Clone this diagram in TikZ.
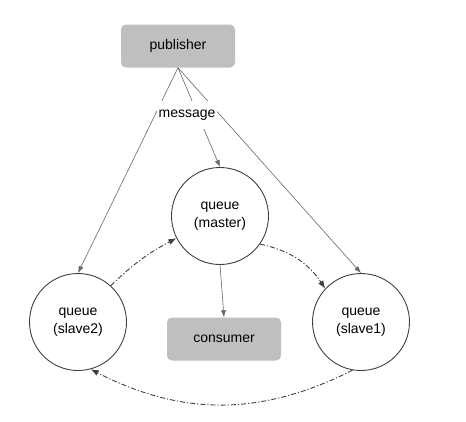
\documentclass[tikz,border=0pt]{standalone}
\usepackage{fontspec}
\setmainfont{Liberation Sans}
\usepackage{tikz}
\usetikzlibrary{arrows.meta,positioning,calc}
\tikzstyle{queue}=[draw=black!75,line width=0.9pt,circle,minimum size=97pt,inner sep=0pt,align=center,font=\fontsize{14}{18}\selectfont]
\tikzstyle{client}=[fill=black!25,rounded corners=5pt,minimum width=114pt,minimum height=43pt,inner sep=0pt,font=\fontsize{14}{17}\selectfont]
\tikzstyle{mirror}=[draw=black!75,line width=0.9pt,dash pattern=on 5pt off 2pt on 1.2pt off 2pt,-{Latex[length=8pt,width=6pt]}]

\begin{document}
\begin{tikzpicture}[x=1pt,y=-1pt,send/.style={draw=black!60,line width=0.6pt,-{Latex[length=7pt,width=5pt]}}]
\useasboundingbox (0,0) rectangle (466,421);
\node [client] (publisher) at (178,46) {publisher};
\node [queue] (master) at (220,216) {queue\\(master)};
\node [queue] (slave2) at (78,322) {queue\\(slave2)};
\node [queue] (slave1) at (361,322) {queue\\(slave1)};
\node [client] (consumer) at (224,339) {consumer};
% publish to every queue
\draw [send] (publisher.south) -- (slave2.north);
\draw [send] (publisher.south) -- (master.north);
\draw [send] (publisher.south) -- (slave1.north);
\node [fill=white,inner sep=2pt,minimum height=28pt,font=\fontsize{14}{17}\selectfont] (message) at (187,115) {message};
\draw [send] (master.south) -- (consumer.north);
% mirroring
\draw [mirror] (master.-35) to[bend left=22] (slave1.137);
\draw [mirror] (slave1.-100) to[bend left=27] (slave2.-75);
\draw [mirror] (slave2.48) to[bend left=8] (master.207);
\end{tikzpicture}
\end{document}
